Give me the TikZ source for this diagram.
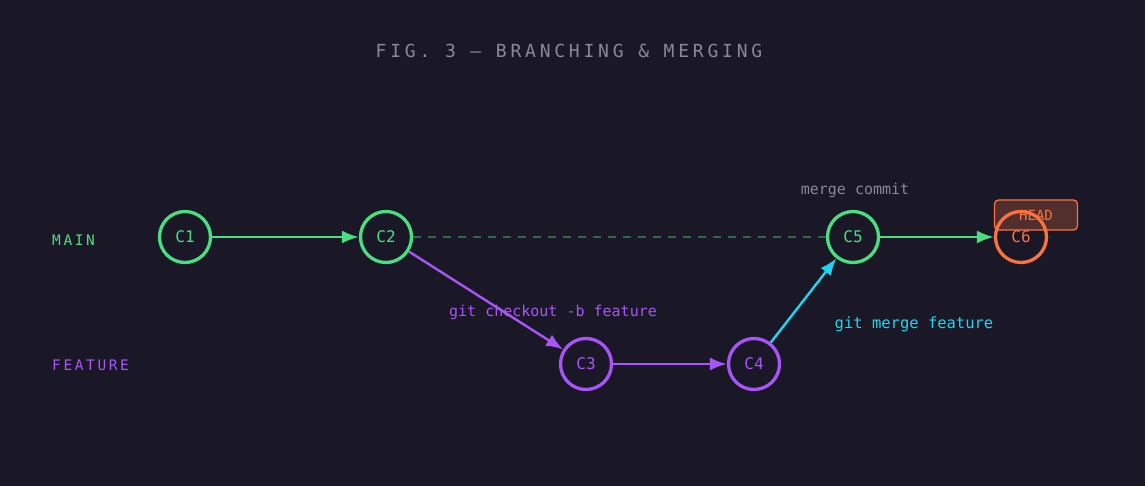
\documentclass[tikz,border=0pt]{standalone}
\usepackage{fontspec}
\usepackage{xcolor}
\usetikzlibrary{arrows.meta}
\setmonofont{DejaVu Sans Mono}
\newfontfamily\spacedfont[LetterSpace=18]{DejaVu Sans Mono}
\newfontfamily\titlefont[LetterSpace=21]{DejaVu Sans Mono}

\definecolor{bg}{HTML}{1A1826}
\definecolor{mainc}{HTML}{4ADE80}
\definecolor{featc}{HTML}{A855F7}
\definecolor{mergec}{HTML}{22D3EE}
\definecolor{headc}{HTML}{F97340}
\definecolor{greyc}{HTML}{8B879B}
\definecolor{dashc}{HTML}{2E6A47}

\tikzset{
  commit/.style={circle, draw, line width=3.3pt, minimum size=51pt, inner sep=0pt,
    font=\ttfamily\fontsize{16}{19}\selectfont},
  branch/.style={anchor=west, inner sep=0pt, font=\spacedfont\fontsize{14.5}{17}\selectfont},
  note/.style={font=\ttfamily\fontsize{15}{18}\selectfont},
  link/.style={line width=2.4pt, -{Latex[length=17pt,width=13pt]}}
}

\begin{document}
\begin{tikzpicture}[x=1pt, y=-1pt]
\fill[bg] (0,0) rectangle (1145,486);
\useasboundingbox (0,0) rectangle (1145,486);

\node (T) at (569,51) [text=greyc, font=\titlefont\fontsize{18}{21}\selectfont] {FIG. 3 — BRANCHING \& MERGING};

\node (M) at (52,240) [branch, text=mainc] {MAIN};
\node (F) at (52,365) [branch, text=featc] {FEATURE};

\node (H) at (1036,215) [draw=headc, fill=headc!25!bg, line width=1.3pt, rounded corners=4pt,
  minimum width=83pt, minimum height=30pt, text=headc, font=\ttfamily\fontsize{14}{17}\selectfont] {HEAD};

\node (C1) at (185,237) [commit, draw=mainc, text=mainc] {C1};
\node (C2) at (386,237) [commit, draw=mainc, text=mainc] {C2};
\node (C3) at (586,364) [commit, draw=featc, text=featc] {C3};
\node (C4) at (754,364) [commit, draw=featc, text=featc] {C4};
\node (C5) at (853,237) [commit, draw=mainc, text=mainc] {C5};
\node (C6) at (1021,237) [commit, draw=headc, text=headc] {C6};

\node (L1) at (855,190) [note, text=greyc] {merge commit};
\node (L2) at (553,312) [note, text=featc] {git checkout -b feature};
\node (L3) at (914,324) [note, text=mergec, font=\ttfamily\fontsize{15.5}{18}\selectfont] {git merge feature};

\draw [dashc, line width=2.2pt, dash pattern=on 8pt off 7pt] (C2) -- (C5);
\draw [link, mainc] (C1) -> (C2);
\draw [link, featc] (C2) -> (C3);
\draw [link, featc] (C3) -> (C4);
\draw [link, mergec] (C4) -> (C5);
\draw [link, mainc] (C5) -> (C6);

\end{tikzpicture}
\end{document}
